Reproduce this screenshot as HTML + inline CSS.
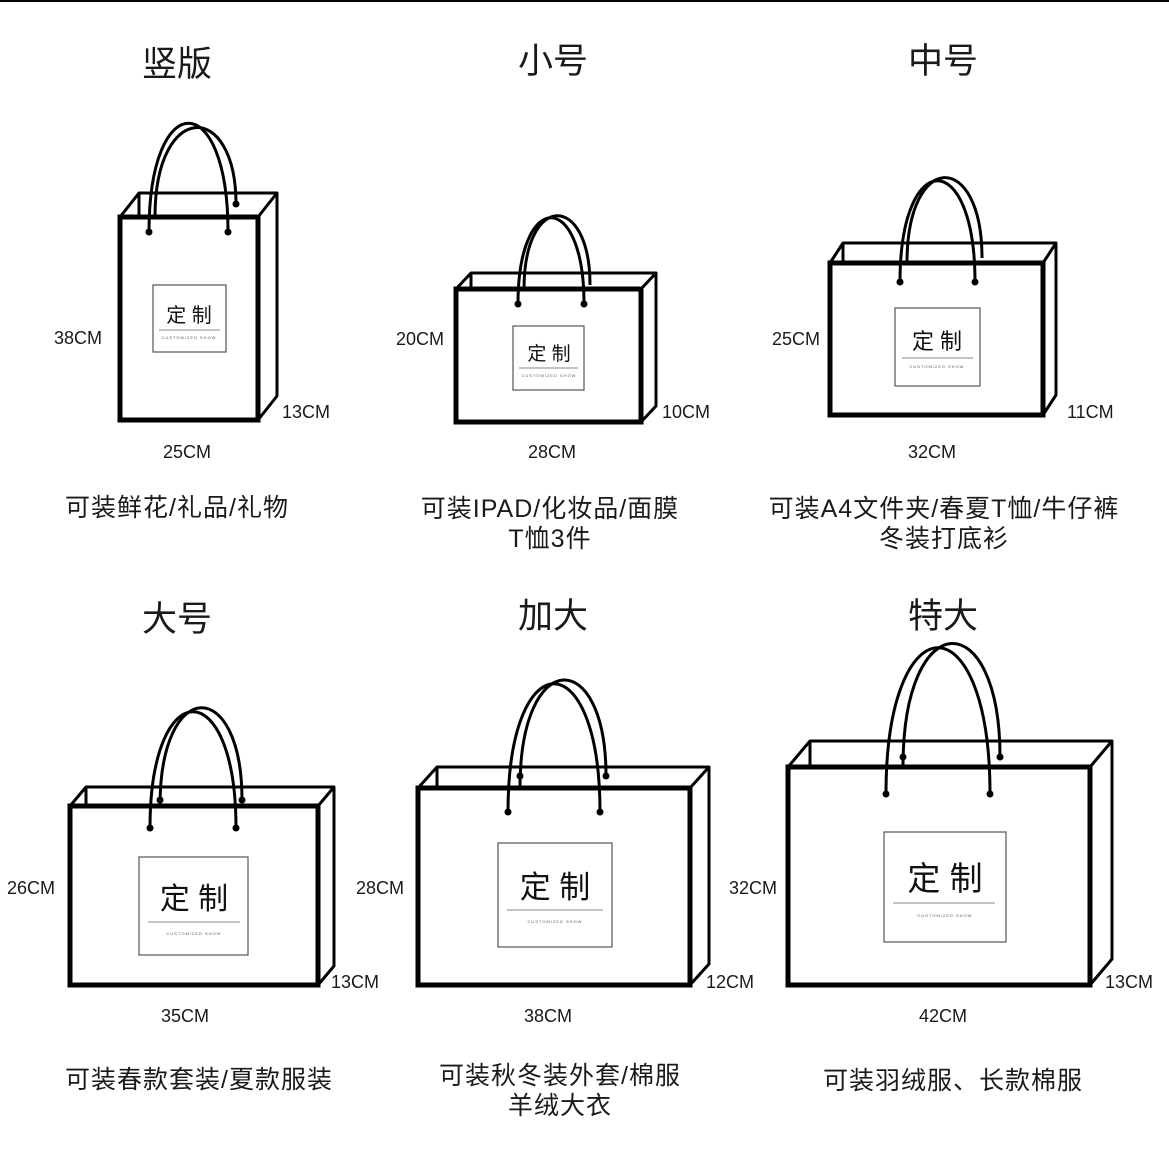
<!DOCTYPE html>
<html><head><meta charset="utf-8">
<style>
html,body{margin:0;padding:0;background:#fff;}
svg{display:block;}
text{font-family:"Liberation Sans","Noto Sans CJK SC",sans-serif;fill:#1a1a1a;}
.f{fill:#fff;stroke:#000;stroke-width:5;}
.b{fill:none;stroke:#000;stroke-width:3;stroke-linejoin:round;}
.h{fill:none;stroke:#000;stroke-width:3;}
.lb{fill:#fff;stroke:#555;stroke-width:1.2;}
.ln{stroke:#888;stroke-width:1;}
.t{font-size:35px;text-anchor:middle;}
.d{font-size:18px;}
.c{font-size:25px;text-anchor:middle;letter-spacing:1px;}
.dz{text-anchor:middle;fill:#111;}
.sm{font-size:4px;text-anchor:middle;fill:#555;letter-spacing:1px;}
</style></head><body>
<svg width="1169" height="1163" viewBox="0 0 1169 1163">
<rect x="0" y="0" width="1169" height="2" fill="#000"/>

<!-- Titles -->
<text class="t" x="177" y="76">竖版</text>
<text class="t" x="553" y="73">小号</text>
<text class="t" x="943" y="73">中号</text>
<text class="t" x="177" y="631">大号</text>
<text class="t" x="553" y="628">加大</text>
<text class="t" x="943" y="628">特大</text>

<!-- Bag 1 -->
<path class="h" d="M155 217 C155 100, 236 100, 236 204"/>
<path class="b" d="M120 217 L139 193 L277 193 L277 396 L258 420 M139 193 L139 217 M258 217 L277 193"/>
<rect class="f" x="120" y="217" width="138" height="203"/>
<path class="h" d="M149 232 C149 87, 228 87, 228 232"/>
<circle cx="149" cy="232" r="3.5"/><circle cx="228" cy="232" r="3.5"/><circle cx="236" cy="204" r="3.5"/>
<rect class="lb" x="153" y="285" width="73" height="67"/>
<text class="dz" x="189" y="322" font-size="20">定 制</text>
<line class="ln" x1="159" y1="330" x2="220" y2="330"/>
<text class="sm" x="189" y="339">CUSTOMIZED SHOW</text>
<text class="d" x="54" y="344">38CM</text>
<text class="d" x="282" y="418">13CM</text>
<text class="d" x="163" y="458">25CM</text>
<text class="c" x="177" y="516">可装鲜花/礼品/礼物</text>

<!-- Bag 2 -->
<path class="h" d="M524 289 C524 192, 590 192, 590 285"/>
<path class="b" d="M456 289 L471 273 L656 273 L656 406 L641 422 M471 273 L471 289 M641 289 L656 273"/>
<rect class="f" x="456" y="289" width="185" height="133"/>
<path class="h" d="M518 304 C518 189, 584 189, 584 304"/>
<circle cx="518" cy="304" r="3.5"/><circle cx="584" cy="304" r="3.5"/>
<rect class="lb" x="513" y="326" width="71" height="64"/>
<text class="dz" x="549" y="360" font-size="19">定 制</text>
<line class="ln" x1="519" y1="368" x2="578" y2="368"/>
<text class="sm" x="549" y="377">CUSTOMIZED SHOW</text>
<text class="d" x="396" y="345">20CM</text>
<text class="d" x="662" y="418">10CM</text>
<text class="d" x="528" y="458">28CM</text>
<text class="c" x="550" y="517">可装IPAD/化妆品/面膜</text>
<text class="c" x="550" y="547">T恤3件</text>

<!-- Bag 3 -->
<path class="h" d="M907 263 C907 150, 982 150, 982 258"/>
<path class="b" d="M830 263 L843 243 L1056 243 L1056 395 L1043 415 M843 243 L843 263 M1043 263 L1056 243"/>
<rect class="f" x="830" y="263" width="213" height="152"/>
<path class="h" d="M900 282 C900 147, 975 147, 975 282"/>
<circle cx="900" cy="282" r="3.5"/><circle cx="975" cy="282" r="3.5"/>
<rect class="lb" x="895" y="308" width="85" height="78"/>
<text class="dz" x="937" y="349" font-size="22">定 制</text>
<line class="ln" x1="902" y1="358" x2="973" y2="358"/>
<text class="sm" x="937" y="368">CUSTOMIZED SHOW</text>
<text class="d" x="772" y="345">25CM</text>
<text class="d" x="1067" y="418">11CM</text>
<text class="d" x="908" y="458">32CM</text>
<text class="c" x="944" y="517">可装A4文件夹/春夏T恤/牛仔裤</text>
<text class="c" x="944" y="547">冬装打底衫</text>

<!-- Bag 4 -->
<path class="h" d="M160 806 C160 676, 242 676, 242 800"/>
<path class="b" d="M70 806 L86 787 L334 787 L334 966 L318 985 M86 787 L86 806 M318 806 L334 787"/>
<rect class="f" x="70" y="806" width="248" height="179"/>
<path class="h" d="M150 828 C150 673, 236 673, 236 828"/>
<circle cx="150" cy="828" r="3.5"/><circle cx="236" cy="828" r="3.5"/><circle cx="160" cy="800" r="3.5"/><circle cx="242" cy="800" r="3.5"/>
<rect class="lb" x="139" y="857" width="109" height="98"/>
<text class="dz" x="194" y="909" font-size="30">定 制</text>
<line class="ln" x1="148" y1="922" x2="240" y2="922"/>
<text class="sm" x="194" y="935">CUSTOMIZED SHOW</text>
<text class="d" x="7" y="894">26CM</text>
<text class="d" x="331" y="988">13CM</text>
<text class="d" x="161" y="1022">35CM</text>
<text class="c" x="199" y="1088">可装春款套装/夏款服装</text>

<!-- Bag 5 -->
<path class="h" d="M520 788 C520 646, 606 646, 606 776"/>
<path class="b" d="M418 788 L437 767 L709 767 L709 964 L690 985 M437 767 L437 788 M690 788 L709 767"/>
<rect class="f" x="418" y="788" width="272" height="197"/>
<path class="h" d="M508 812 C508 641, 600 641, 600 812"/>
<circle cx="508" cy="812" r="3.5"/><circle cx="600" cy="812" r="3.5"/><circle cx="520" cy="776" r="3.5"/><circle cx="606" cy="776" r="3.5"/>
<rect class="lb" x="498" y="843" width="114" height="104"/>
<text class="dz" x="555" y="898" font-size="31">定 制</text>
<line class="ln" x1="507" y1="910" x2="603" y2="910"/>
<text class="sm" x="555" y="923">CUSTOMIZED SHOW</text>
<text class="d" x="356" y="894">28CM</text>
<text class="d" x="706" y="988">12CM</text>
<text class="d" x="524" y="1022">38CM</text>
<text class="c" x="560" y="1084">可装秋冬装外套/棉服</text>
<text class="c" x="560" y="1114">羊绒大衣</text>

<!-- Bag 6 -->
<path class="h" d="M903 767 C903 604, 1000 604, 1000 757"/>
<path class="b" d="M788 767 L810 741 L1112 741 L1112 959 L1090 985 M810 741 L810 767 M1090 767 L1112 741"/>
<rect class="f" x="788" y="767" width="302" height="218"/>
<path class="h" d="M886 794 C886 599, 990 599, 990 794"/>
<circle cx="886" cy="794" r="3.5"/><circle cx="990" cy="794" r="3.5"/><circle cx="903" cy="757" r="3.5"/><circle cx="1000" cy="757" r="3.5"/>
<rect class="lb" x="884" y="832" width="122" height="110"/>
<text class="dz" x="945" y="890" font-size="33">定 制</text>
<line class="ln" x1="893" y1="903" x2="995" y2="903"/>
<text class="sm" x="945" y="917">CUSTOMIZED SHOW</text>
<text class="d" x="729" y="894">32CM</text>
<text class="d" x="1105" y="988">13CM</text>
<text class="d" x="919" y="1022">42CM</text>
<text class="c" x="953" y="1089">可装羽绒服、长款棉服</text>
</svg>
</body></html>
